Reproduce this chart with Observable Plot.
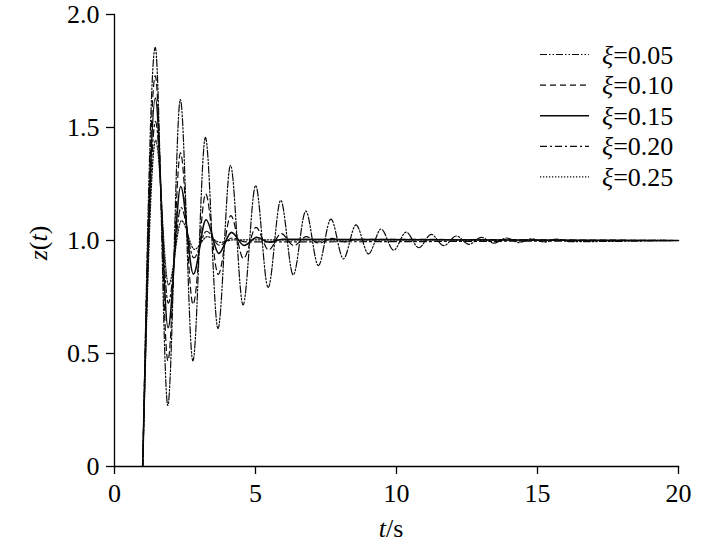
<!DOCTYPE html>
<html><head><meta charset="utf-8">
<script src="https://cdn.jsdelivr.net/npm/d3@7"></script>
<script src="https://cdn.jsdelivr.net/npm/@observablehq/plot@0.6"></script>
<style>
body{margin:0;background:#fff;}
#chart{position:relative;width:709px;height:546px;}
#chart svg, #chart svg text{font-family:"Liberation Serif","Tinos","Times New Roman",Times,"DejaVu Serif",serif !important;}
</style>
</head><body><div id="chart"></div>
<script>
// ---- data (extrema of each response, plus start/end) ----
const xTicks = [0, 5, 10, 15, 20];
const yTicks = [0, 0.5, 1, 1.5, 2];
const yTickLabels = ["0", "0.5", "1.0", "1.5", "2.0"];
const seriesNames = ["0.05", "0.10", "0.15", "0.20", "0.25"];

const t005 = [1, 1.445, 1.890, 2.335, 2.780, 3.224, 3.669, 4.114, 4.559, 5.004, 5.449, 5.894, 6.339, 6.784, 7.229, 7.674, 8.118, 8.563, 9.008, 9.453, 9.898, 10.343, 10.788, 11.233, 11.678, 12.123, 12.567, 13.012, 13.457, 13.902, 14.347, 14.792, 15.237, 15.682, 16.127, 20];
const z005 = [0, 1.855, 0.270, 1.624, 0.467, 1.456, 0.610, 1.333, 0.715, 1.243, 0.792, 1.178, 0.848, 1.130, 0.889, 1.095, 0.919, 1.069, 0.941, 1.051, 0.957, 1.037, 0.968, 1.027, 0.977, 1.020, 0.983, 1.014, 0.988, 1.011, 0.991, 1.008, 0.993, 1.006, 0.995, 1.000];

const t010 = [1, 1.447, 1.893, 2.340, 2.786, 3.233, 3.679, 4.126, 4.572, 5.019, 5.465, 5.912, 6.358, 6.805, 7.251, 7.698, 8.144, 8.591, 20];
const z010 = [0, 1.729, 0.468, 1.388, 0.717, 1.206, 0.850, 1.110, 0.920, 1.058, 0.958, 1.031, 0.977, 1.017, 0.988, 1.009, 0.994, 1.005, 1.000];

const t015 = [1, 1.449, 1.899, 2.348, 2.798, 3.247, 3.696, 4.146, 4.595, 5.045, 5.494, 5.943, 20];
const z015 = [0, 1.630, 0.614, 1.239, 0.851, 1.092, 0.943, 1.036, 0.978, 1.014, 0.992, 1.005, 1.000];

const t020 = [1, 1.454, 1.907, 2.361, 2.814, 3.268, 3.721, 4.175, 4.628, 20];
const z020 = [0, 1.527, 0.723, 1.146, 0.923, 1.041, 0.979, 1.011, 0.994, 1.000];

const t025 = [1, 1.459, 1.918, 2.376, 2.835, 3.294, 3.753, 4.212, 20];
const z025 = [0, 1.444, 0.803, 1.088, 0.961, 1.017, 0.992, 1.003, 1.000];

// ---- styles ----
const dashStyles = ["7,2,1.5,2,1.5,2", "6,4", null, "7,3,2,3", "1.3,1.7"];
const widthStyles = [1.2, 1.2, 1.6, 1.2, 1.2];

const tList = [t005, t010, t015, t020, t025];
const zList = [z005, z010, z015, z020, z025];
const rows = [];
seriesNames.forEach((s, i) => tList[i].forEach((t, j) => rows.push({s, t, z: zList[i][j]})));

const font = "'Liberation Serif','Tinos','Times New Roman',Times,'DejaVu Serif',serif";

const lineMarks = seriesNames.map((s, i) => Plot.line(rows.filter(d => d.s === s), {
  x: "t", y: "z", curve: "monotone-x",
  stroke: "#0a0a0a", strokeWidth: widthStyles[i],
  strokeDasharray: dashStyles[i] || undefined
}));

const plot = Plot.plot({
  width: 709, height: 546,
  marginLeft: 114, marginRight: 31, marginTop: 14, marginBottom: 80,
  style: {fontFamily: font, color: "#000", background: "#fff"},
  x: {domain: [0, 20]},
  y: {domain: [0, 2]},
  marks: [
    ...lineMarks,
    Plot.axisX({ticks: xTicks, tickSize: 8, tickPadding: 9, fontSize: 26, label: null, strokeWidth: 1.3}),
    Plot.axisY({ticks: yTicks, tickSize: 8, tickPadding: 7, fontSize: 26, label: null, strokeWidth: 1.3,
      tickFormat: d => yTickLabels[yTicks.indexOf(d)]}),
    Plot.frame({anchor: "left", stroke: "#000", strokeWidth: 1.3}),
    Plot.frame({anchor: "bottom", stroke: "#000", strokeWidth: 1.3})
  ]
});
document.getElementById("chart").appendChild(plot);

// ---- axis titles and legend ----
const svg = d3.select(plot);
const xt = svg.append("text").attr("x", 391).attr("y", 537).attr("text-anchor", "middle")
  .attr("font-size", 26).attr("fill", "#000");
xt.append("tspan").attr("font-style", "italic").text("t");
xt.append("tspan").text("/s");

const yt = svg.append("text").attr("transform", "translate(47,243) rotate(-90)").attr("text-anchor", "middle")
  .attr("font-size", 26).attr("fill", "#000");
yt.append("tspan").attr("font-style", "italic").text("z");
yt.append("tspan").text("(");
yt.append("tspan").attr("font-style", "italic").text("t");
yt.append("tspan").text(")");

const lg = svg.append("g");
seriesNames.forEach((s, i) => {
  const y = 54.5 + i * 30.6;
  const ln = lg.append("line").attr("x1", 540).attr("x2", 589).attr("y1", y).attr("y2", y)
    .attr("stroke", "#0a0a0a").attr("stroke-width", widthStyles[i]);
  if (dashStyles[i]) ln.attr("stroke-dasharray", dashStyles[i]);
  const tx = lg.append("text").attr("x", 602).attr("y", y + 9).attr("text-anchor", "start")
    .attr("font-size", 26).attr("fill", "#000");
  tx.append("tspan").attr("font-style", "italic").text("ξ");
  tx.append("tspan").text("=" + s);
});
</script>
</body></html>
